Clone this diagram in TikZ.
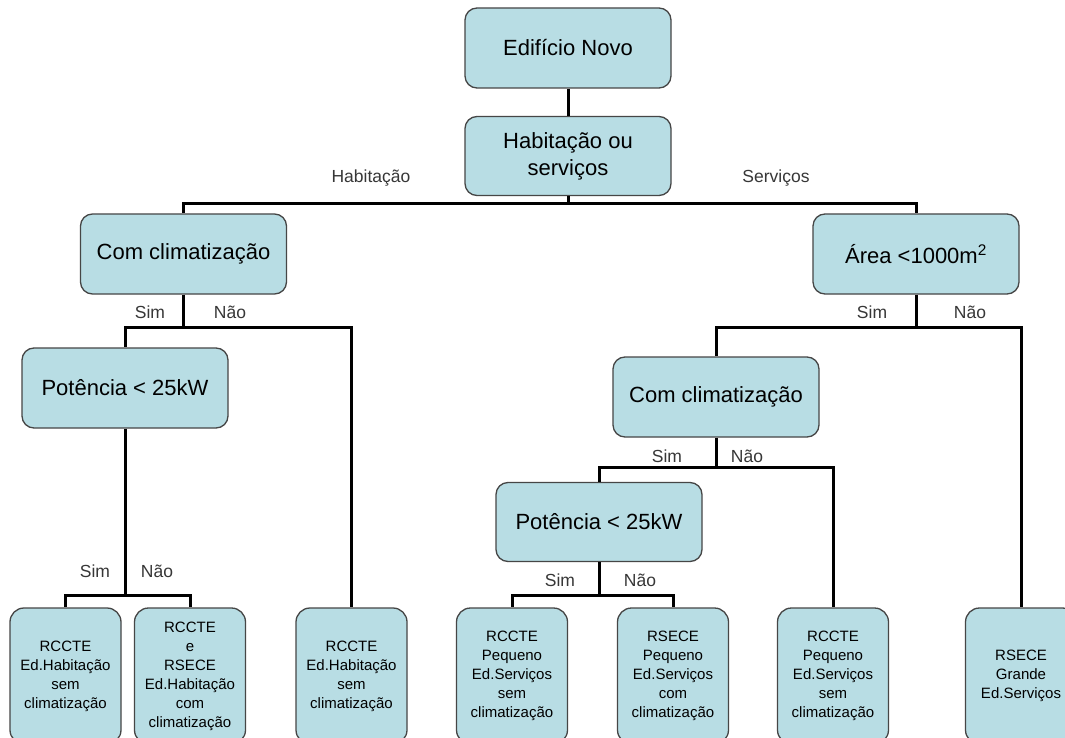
\documentclass[tikz,border=0pt]{standalone}
\usepackage{fontspec}
\setmainfont{Liberation Sans}
\definecolor{boxc}{RGB}{184,221,228}
\definecolor{bordc}{RGB}{70,70,70}
\definecolor{labc}{RGB}{55,55,55}
\begin{document}
\begin{tikzpicture}[x=1pt,y=-1pt,
  box/.style={draw=bordc, fill=boxc, line width=1.3pt, rounded corners=12pt, align=center,
    inner sep=0pt, minimum width=206pt, minimum height=80pt, font=\fontsize{22}{27}\selectfont},
  leaf/.style={draw=bordc, fill=boxc, line width=1.3pt, rounded corners=14pt, align=center,
    inner sep=0pt, minimum width=111pt, minimum height=136pt, font=\fontsize{15}{19}\selectfont},
  lab/.style={font=\fontsize{17.5}{20}\selectfont, text=labc, inner sep=0pt},
  conn/.style={line width=3pt, draw=black}]
\useasboundingbox (0,0) rectangle (1065,738);
\fill[white] (0,0) rectangle (1065,738);
\clip (0,0) rectangle (1065,738);
% main boxes
\node[box] (n1) at (568,48) {Edifício Novo};
\node[box, minimum height=79pt] (n2) at (568,156) {Habitação ou\\serviços};
\node[box] (c1) at (183.5,254) {Com climatização};
\node[box] (ar) at (916,254) {Área <1000m\textsuperscript{2}};
\node[box] (p1) at (125,388) {Potência < 25kW};
\node[box] (c2) at (716,397) {Com climatização};
\node[box, minimum height=79pt] (p2) at (599,522) {Potência < 25kW};
% leaves
\node[leaf] (l1) at (65.5,676) {RCCTE\\Ed.Habitação\\sem\\climatização};
\node[leaf] (l2) at (190,676) {RCCTE\\e\\RSECE\\Ed.Habitação\\com\\climatização};
\node[leaf] (l3) at (351.5,676) {RCCTE\\Ed.Habitação\\sem\\climatização};
\node[leaf] (l4) at (512,676) {RCCTE\\Pequeno\\Ed.Serviços\\sem\\climatização};
\node[leaf] (l5) at (673,676) {RSECE\\Pequeno\\Ed.Serviços\\com\\climatização};
\node[leaf] (l6) at (833,676) {RCCTE\\Pequeno\\Ed.Serviços\\sem\\climatização};
\node[leaf] (l7) at (1021,676) {RSECE\\Grande\\Ed.Serviços};
% junctions
\coordinate (j1) at (568,204);
\coordinate (j2) at (183.5,327);
\coordinate (j3) at (125,595);
\coordinate (j4) at (916,327);
\coordinate (j5) at (716,467);
\coordinate (j6) at (599,595);
% connectors
\draw[conn] (n1) -- (n2);
\draw[conn] (n2) -- (j1);
\draw[conn] (j1) -| (c1);
\draw[conn] (j1) -| (ar);
\draw[conn] (c1) -- (j2);
\draw[conn] (j2) -| (p1);
\draw[conn] (j2) -| (l3);
\draw[conn] (p1) -- (j3);
\draw[conn] (j3) -| (l1);
\draw[conn] (j3) -| (l2);
\draw[conn] (ar) -- (j4);
\draw[conn] (j4) -| (c2);
\draw[conn] (j4) -| (l7);
\draw[conn] (c2) -- (j5);
\draw[conn] (j5) -| (p2);
\draw[conn] (j5) -| (l6);
\draw[conn] (p2) -- (j6);
\draw[conn] (j6) -| (l4);
\draw[conn] (j6) -| (l5);
% labels
\node[lab] (lh) at (371,178) {Habitação};
\node[lab] (ls) at (776,178) {Serviços};
\node[lab] (s1) at (150,312) {Sim};
\node[lab] (n1l) at (230,312) {Não};
\node[lab] (s2) at (95,571) {Sim};
\node[lab] (n2l) at (157,571) {Não};
\node[lab] (s3) at (872,312) {Sim};
\node[lab] (n3l) at (970,312) {Não};
\node[lab] (s4) at (667,456) {Sim};
\node[lab] (n4l) at (747,456) {Não};
\node[lab] (s5) at (560,580) {Sim};
\node[lab] (n5l) at (640,580) {Não};
\end{tikzpicture}
\end{document}
